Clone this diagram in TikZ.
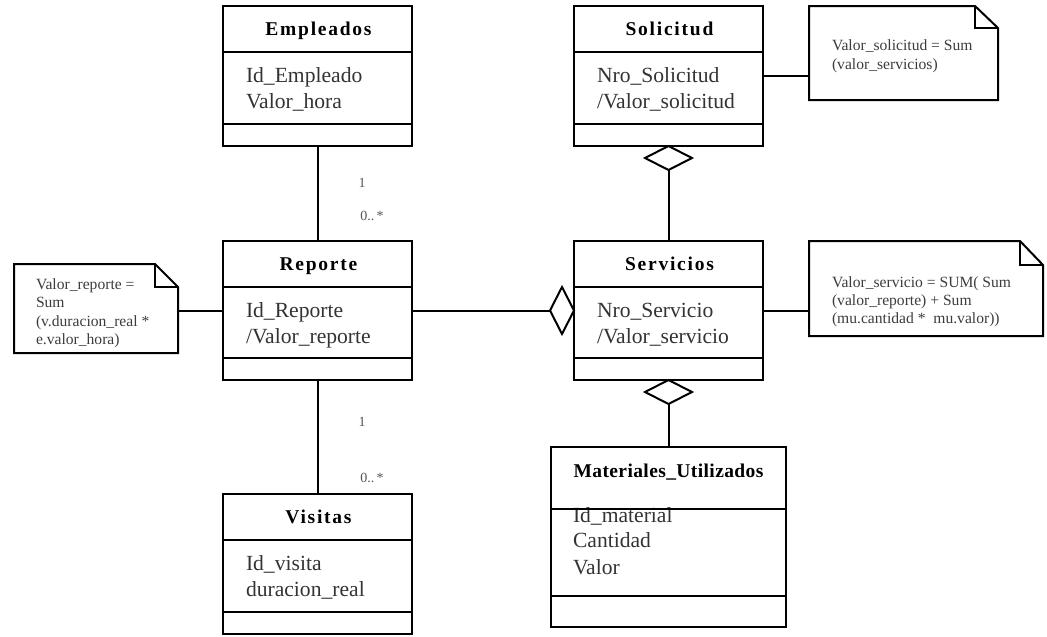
\documentclass[tikz,border=0pt]{standalone}
\usepackage{fontspec}
\setmainfont{Liberation Serif}
\usetikzlibrary{shapes.geometric}
\definecolor{txt}{HTML}{333333}
\definecolor{ntxt}{HTML}{3C3C3C}
\definecolor{mtxt}{HTML}{555555}
\begin{document}
\begin{tikzpicture}[x=1pt,y=-1pt,line width=2pt,
  box/.style={draw,line width=2pt,anchor=north west,inner sep=0pt,outer sep=0pt},
  notebox/.style={anchor=north west,inner sep=0pt,outer sep=0pt},
  ttl/.style={anchor=base,inner sep=0pt,font=\fontsize{19.5}{22}\selectfont\bfseries\addfontfeature{LetterSpace=9}},
  ttlw/.style={anchor=base,inner sep=0pt,font=\fontsize{19.5}{22}\selectfont\bfseries\addfontfeature{LetterSpace=2}},
  attr/.style={anchor=base west,inner sep=0pt,text=txt,font=\fontsize{21.6}{26}\selectfont},
  ntext/.style={anchor=base west,inner sep=0pt,text=ntxt,font=\fontsize{15.6}{19}\selectfont},
  mult/.style={inner sep=0pt,text=mtxt,font=\fontsize{14}{15}\selectfont},
  agg/.style={draw,diamond,fill=white,line width=2pt,inner sep=0pt,outer sep=0pt,minimum width=47pt,minimum height=24pt},
  aggv/.style={draw,diamond,fill=white,line width=2pt,inner sep=0pt,outer sep=0pt,minimum width=24pt,minimum height=47pt}]
\useasboundingbox (0,0) rectangle (1047,637);

% ---------- classes ----------
\node[box,minimum width=189pt,minimum height=140pt] (emp) at (223,6) {};
\draw (emp.west |- 0,52) -- (emp.east |- 0,52);
\draw (emp.west |- 0,124) -- (emp.east |- 0,124);
\node[ttl] (empT) at (318.5,35) {Empleados};
\node[attr] (empA1) at (245,82) {Id\_Empleado};
\node[attr] (empA2) at (245,108) {Valor\_hora};

\node[box,minimum width=189pt,minimum height=140pt] (sol) at (574,6) {};
\draw (sol.west |- 0,52) -- (sol.east |- 0,52);
\draw (sol.west |- 0,124) -- (sol.east |- 0,124);
\node[ttl] (solT) at (669.5,35) {Solicitud};
\node[attr] (solA1) at (596,82) {Nro\_Solicitud};
\node[attr] (solA2) at (596,108) {/Valor\_solicitud};

\node[box,minimum width=189pt,minimum height=139pt] (rep) at (223,241) {};
\draw (rep.west |- 0,287) -- (rep.east |- 0,287);
\draw (rep.west |- 0,358) -- (rep.east |- 0,358);
\node[ttl] (repT) at (318.5,270) {Reporte};
\node[attr] (repA1) at (245,317) {Id\_Reporte};
\node[attr] (repA2) at (245,343) {/Valor\_reporte};

\node[box,minimum width=189pt,minimum height=139pt] (serv) at (574,241) {};
\draw (serv.west |- 0,287) -- (serv.east |- 0,287);
\draw (serv.west |- 0,358) -- (serv.east |- 0,358);
\node[ttl] (servT) at (669.5,270) {Servicios};
\node[attr] (servA1) at (596,317) {Nro\_Servicio};
\node[attr] (servA2) at (596,343) {/Valor\_servicio};

\node[box,minimum width=189pt,minimum height=140pt] (vis) at (223,494) {};
\draw (vis.west |- 0,540) -- (vis.east |- 0,540);
\draw (vis.west |- 0,612) -- (vis.east |- 0,612);
\node[ttl] (visT) at (318.5,523) {Visitas};
\node[attr] (visA1) at (245,570) {Id\_visita};
\node[attr] (visA2) at (245,596) {duracion\_real};

\node[box,minimum width=235pt,minimum height=180pt] (mat) at (551,447) {};
\node[ttlw] (matT) at (668.5,477) {Materiales\_Utilizados};
\node[attr] (matA1) at (572,522) {Id\_material};
\node[attr] (matA2) at (572,547) {Cantidad};
\node[attr] (matA3) at (572,574) {Valor};
\draw (mat.west |- 0,509) -- (mat.east |- 0,509);
\draw (mat.west |- 0,596) -- (mat.east |- 0,596);

% ---------- associations ----------
\draw (emp.south) -- (rep.north);
\node[mult] (m1) at (362,183) {1};
\node[mult] (m2) at (372,216) {0..\,*};
\draw (rep.south) -- (vis.north);
\node[mult] (m3) at (362,422) {1};
\node[mult] (m4) at (372,478) {0..\,*};

\node[agg,anchor=north] (d1) at (sol.south) {};
\draw (d1.south) -- (serv.north);
\node[aggv,anchor=east] (d2) at (serv.west) {};
\draw (rep.east) -- (d2.west);
\node[agg,anchor=north] (d3) at (serv.south) {};
\draw (d3.south) -- (mat.north);

% ---------- notes ----------
\node[notebox,minimum width=164pt,minimum height=89pt] (n1) at (14,264) {};
\draw (n1.north west) -- ([xshift=-23pt]n1.north east) -- ([yshift=-23pt]n1.north east) -- (n1.south east) -- (n1.south west) -- cycle;
\draw ([xshift=-23pt]n1.north east) -- ([xshift=-23pt,yshift=-23pt]n1.north east) -- ([yshift=-23pt]n1.north east);
\node[ntext] (n1a) at (35,289) {Valor\_reporte =};
\node[ntext] (n1b) at (35,307) {Sum};
\node[ntext] (n1c) at (35,326) {(v.duracion\_real *};
\node[ntext] (n1d) at (35,344) {e.valor\_hora)};
\draw (rep.west) -- (rep.west -| n1.east);

\node[notebox,minimum width=189pt,minimum height=94pt] (n2) at (809,6) {};
\draw (n2.north west) -- ([xshift=-23pt]n2.north east) -- ([yshift=-22pt]n2.north east) -- (n2.south east) -- (n2.south west) -- cycle;
\draw ([xshift=-23pt]n2.north east) -- ([xshift=-23pt,yshift=-22pt]n2.north east) -- ([yshift=-22pt]n2.north east);
\node[ntext] (n2a) at (831,50) {Valor\_solicitud = Sum};
\node[ntext] (n2b) at (831,69) {(valor\_servicios)};
\draw (sol.east) -- (sol.east -| n2.west);

\node[notebox,minimum width=234pt,minimum height=95pt] (n3) at (809,241) {};
\draw (n3.north west) -- ([xshift=-23pt]n3.north east) -- ([yshift=-24pt]n3.north east) -- (n3.south east) -- (n3.south west) -- cycle;
\draw ([xshift=-23pt]n3.north east) -- ([xshift=-23pt,yshift=-24pt]n3.north east) -- ([yshift=-24pt]n3.north east);
\node[ntext] (n3a) at (831,287) {Valor\_servicio = SUM( Sum};
\node[ntext] (n3b) at (831,305) {(valor\_reporte) + Sum};
\node[ntext] (n3c) at (831,323) {(mu.cantidad *\ \ mu.valor))};
\draw (serv.east) -- (serv.east -| n3.west);
\end{tikzpicture}
\end{document}
